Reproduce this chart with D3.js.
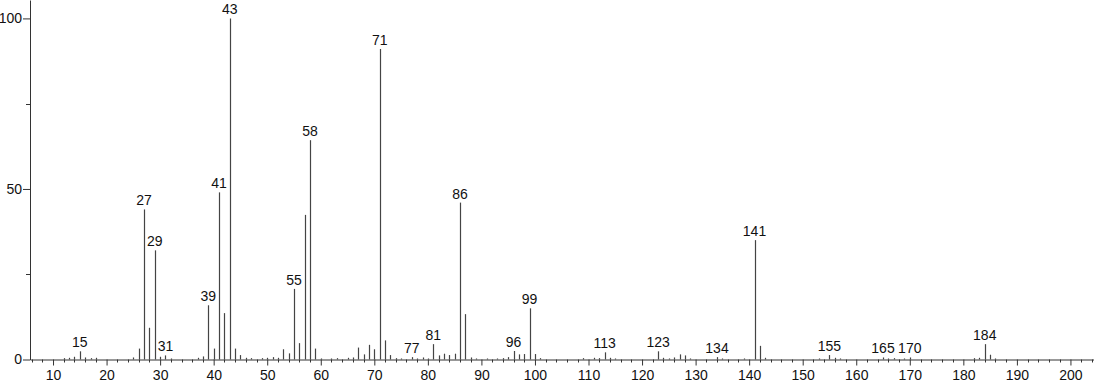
<!DOCTYPE html>
<html>
<head>
<meta charset="utf-8">
<script src="https://cdn.jsdelivr.net/npm/d3@7"></script>
<style>
  body { margin: 0; background: #fff; }
  svg { display: block; font-family: "Liberation Sans", Arial, sans-serif; }
</style>
</head>
<body>
<div id="chart"></div>
<script>
// m/z values and relative intensities
const mzValues = [12, 13, 14, 15, 16, 17, 18, 25, 26, 27, 28, 29, 30, 31, 32, 37, 38, 39, 40, 41, 42, 43, 44, 45, 46, 47, 49, 50, 51, 52, 53, 54, 55, 56, 57, 58, 59, 60, 62, 63, 65, 66, 67, 68, 69, 70, 71, 72, 73, 74, 75, 77, 78, 79, 80, 81, 82, 83, 84, 85, 86, 87, 88, 89, 91, 93, 94, 95, 96, 97, 98, 99, 100, 101, 109, 111, 112, 113, 114, 115, 123, 124, 125, 126, 127, 128, 129, 134, 135, 139, 141, 142, 143, 153, 155, 156, 157, 165, 166, 167, 169, 170, 182, 183, 184, 185, 186];
const intensities = [0.4, 0.5, 0.8, 2.4, 0.6, 0.4, 0.5, 0.6, 3.2, 44, 9.3, 32, 0.8, 1.2, 0.3, 0.5, 0.9, 15.9, 3.2, 49, 13.6, 100, 3.2, 1.3, 0.5, 0.4, 0.4, 0.5, 0.7, 0.5, 3.0, 1.8, 20.7, 4.8, 42.4, 64.3, 3.2, 0.3, 0.3, 0.4, 0.5, 0.6, 3.5, 1.5, 4.3, 3.0, 91, 5.6, 1.3, 0.4, 0.3, 0.7, 0.3, 0.6, 0.3, 4.5, 1.2, 1.7, 1.3, 1.7, 46, 13.3, 0.6, 0.3, 0.3, 0.3, 0.4, 0.7, 2.5, 1.5, 1.6, 15, 1.6, 0.4, 0.4, 0.5, 0.4, 2.1, 0.5, 0.3, 2.4, 0.5, 0.3, 0.6, 1.5, 1.2, 0.3, 0.7, 0.3, 0.3, 35, 4.0, 0.5, 0.3, 1.3, 0.5, 0.3, 0.6, 0.3, 0.4, 0.3, 0.6, 0.4, 0.5, 4.5, 1.4, 0.3];
// peaks that carry an m/z label
const labeledPeaks = [15, 27, 29, 31, 39, 41, 43, 55, 58, 71, 77, 81, 86, 96, 99, 113, 123, 134, 141, 155, 165, 170, 184];
const xTickValues = [10, 20, 30, 40, 50, 60, 70, 80, 90, 100, 110, 120, 130, 140, 150, 160, 170, 180, 190, 200];
const yTickValues = [0, 50, 100];
const yMinorTicks = [25, 75];

const peaks = mzValues.map((m, i) => ({ mz: m, val: intensities[i] }));

const W = 1094, H = 384;
const svg = d3.select("#chart").append("svg").attr("width", W).attr("height", H);

const x = d3.scaleLinear().domain([5.7, 204.4]).range([30, 1094]);
const y = d3.scaleLinear().domain([0, 105.4]).range([359.5, 0]);
const axisColor = "#333";

// minor x ticks every 2 units
const xMinor = d3.range(6, 205, 2).filter(v => v % 10 !== 0);
svg.append("g")
  .selectAll("line")
  .data(xMinor)
  .enter()
  .append("line")
  .attr("x1", d => Math.round(x(d)) + 0.5)
  .attr("x2", d => Math.round(x(d)) + 0.5)
  .attr("y1", y(0))
  .attr("y2", y(0) + 3)
  .attr("stroke", axisColor);

// x axis
const xAxis = svg.append("g")
  .attr("transform", `translate(0,${y(0)})`)
  .call(d3.axisBottom(x).tickValues(xTickValues).tickSize(6).tickSizeOuter(0).tickPadding(5));
xAxis.select(".domain").attr("stroke", axisColor);
xAxis.selectAll(".tick line").attr("stroke", axisColor);
xAxis.selectAll("text").attr("font-size", 14).attr("fill", "#111");

// y axis
const yAxis = svg.append("g")
  .attr("transform", "translate(30,0)")
  .call(d3.axisLeft(y).tickValues(yTickValues).tickSize(7).tickSizeOuter(0).tickPadding(1));
yAxis.select(".domain").attr("stroke", axisColor);
yAxis.selectAll(".tick line").attr("stroke", axisColor);
yAxis.selectAll("text").attr("font-size", 14).attr("fill", "#111");

svg.append("g")
  .selectAll("line")
  .data(yMinorTicks)
  .enter()
  .append("line")
  .attr("x1", 26)
  .attr("x2", 30)
  .attr("y1", d => Math.round(y(d)) + 0.5)
  .attr("y2", d => Math.round(y(d)) + 0.5)
  .attr("stroke", axisColor);

// peaks
svg.append("g")
  .selectAll("line")
  .data(peaks)
  .enter()
  .append("line")
  .attr("x1", d => Math.round(x(d.mz)) + 0.5)
  .attr("x2", d => Math.round(x(d.mz)) + 0.5)
  .attr("y1", y(0))
  .attr("y2", d => y(d.val))
  .attr("stroke", "#444")
  .attr("stroke-width", 1.2);

// peak labels
svg.append("g")
  .selectAll("text")
  .data(peaks.filter(d => labeledPeaks.includes(d.mz)))
  .enter()
  .append("text")
  .attr("x", d => x(d.mz))
  .attr("y", d => y(d.val) - 4)
  .attr("text-anchor", "middle")
  .attr("font-size", 14)
  .attr("fill", "#111")
  .text(d => d.mz);
</script>
</body>
</html>
